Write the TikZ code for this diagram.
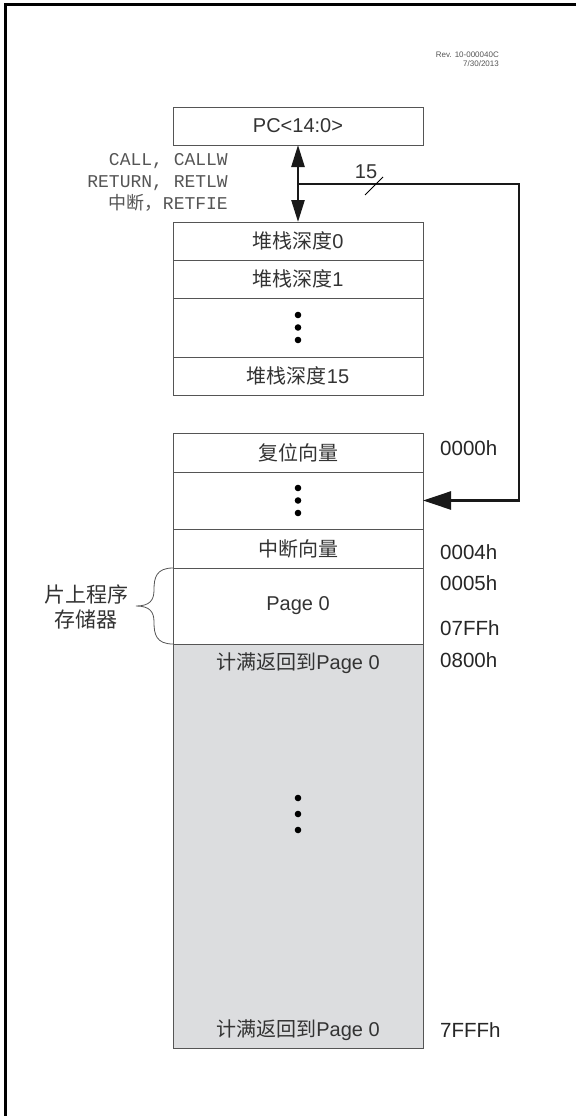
\documentclass[tikz,border=0pt]{standalone}
\usepackage{fontspec}
\setmainfont{Liberation Sans}
\setmonofont{Liberation Mono}
\newfontfamily\cjk{Noto Sans CJK SC}
\usetikzlibrary{positioning,arrows.meta}

\definecolor{boxline}{HTML}{555555}
\definecolor{txtgray}{HTML}{333333}
\definecolor{opsgray}{HTML}{555555}
\definecolor{wrapgray}{HTML}{DCDDDF}

\newcommand{\zh}[1]{{\cjk #1}}
\newcommand{\bxfont}{\fontsize{20}{24}\selectfont}

\tikzset{
  box/.style={draw=boxline, line width=1pt, minimum width=250pt, inner sep=0pt,
              outer sep=0pt, anchor=north, text=txtgray, font=\bxfont},
  boxtxt/.style={text=txtgray, font=\bxfont, inner sep=0pt},
  addr/.style={text=black!85, font=\fontsize{20.5}{24}\selectfont, inner sep=0pt, anchor=west},
  ops/.style={text=opsgray, font=\ttfamily\fontsize{18}{22}\selectfont, inner sep=0pt, align=right},
  bus/.style={line width=2.5pt, black!90},
}

\begin{document}
\begin{tikzpicture}[x=1pt,y=-1pt]
  \useasboundingbox (0,0) rectangle (576,1116);
  % frame
  \draw[line width=3pt] (576,4.5) -- (5,4.5) -- (5,1116);
  \node[text=opsgray, font=\fontsize{8}{8.5}\selectfont, align=right, inner sep=0pt, anchor=north east] (rev) at (499,52) {Rev. 10-000040C\\7/30/2013};

  % PC and stack
  \node[box, minimum height=38pt] (pc) at (298,107) {PC<14:0>};
  \node[box, minimum height=38pt] (s0) at (298,222) {\zh{堆栈深度}0};
  \node[box, minimum height=38pt, below=0pt of s0] (s1) {\zh{堆栈深度}1};
  \node[box, minimum height=59pt, below=0pt of s1] (sdots) {};
  \node[box, minimum height=38pt, below=0pt of sdots] (s15) {\zh{堆栈深度}15};

  \node[ops, anchor=east] (ops) at (228,182) {CALL, CALLW\\RETURN, RETLW\\{\cjk 中断，}RETFIE};

  % program memory
  \node[box, minimum height=39pt] (rst) at (298,433) {\zh{复位向量}};
  \node[box, minimum height=57pt, below=0pt of rst] (mdots) {};
  \node[box, minimum height=39pt, below=0pt of mdots] (irq) {\zh{中断向量}};
  \node[box, minimum height=76pt, below=0pt of irq] (pg0) {Page 0};
  \node[box, fill=wrapgray, minimum height=404pt, below=0pt of pg0] (wrap) {};
  \node[boxtxt] (wtop) at (298,663) {\zh{计满返回到}Page 0};
  \node[boxtxt] (wbot) at (298,1030) {\zh{计满返回到}Page 0};

  \foreach \d in {-12.5,0,12.5} {
    \fill ([yshift=\d pt]sdots.center) circle (3.3pt);
    \fill ([yshift=\d pt]mdots.center) circle (3.3pt);
  }
  \foreach \y in {798,814,830}
    \fill (298,\y) circle (3.3pt);

  % addresses
  \foreach \a/\y in {0000h/448, 0004h/552, 0005h/583, 07FFh/628, 0800h/660, 7FFFh/1030}
    \node[addr] (a\a) at (440,\y) {\a};

  % stack <-> PC and the 15-bit return path
  \draw[bus, {Triangle[length=22pt,width=13pt]}-{Triangle[length=22pt,width=13pt]}] (pc.south) -- (s0.north);
  \coordinate (tap) at (298,184);
  \coordinate (bend) at (519,184);
  \draw[bus, -{Triangle[length=28pt,width=18pt]}] (tap) -- (bend) |- (mdots.east);
  \coordinate (cut) at (374,186);
  \draw[line width=0.8pt] ([shift={(-9,9)}]cut) -- ([shift={(9,-9)}]cut);
  \node[boxtxt] (buswidth) at (366,172) {15};

  % brace
  \draw[line width=0.8pt, boxline] (pg0.north west) .. controls (156,568) and (154,578) .. (154,590)
    .. controls (154,600) and (150,606) .. (136,606)
    .. controls (150,606) and (154,612) .. (154,622)
    .. controls (154,634) and (156,644) .. (pg0.south west);
  \node[boxtxt, align=center, font=\fontsize{21}{25}\selectfont] (onchip) at (86,607) {\zh{片上程序}\\\zh{存储器}};
\end{tikzpicture}
\end{document}
